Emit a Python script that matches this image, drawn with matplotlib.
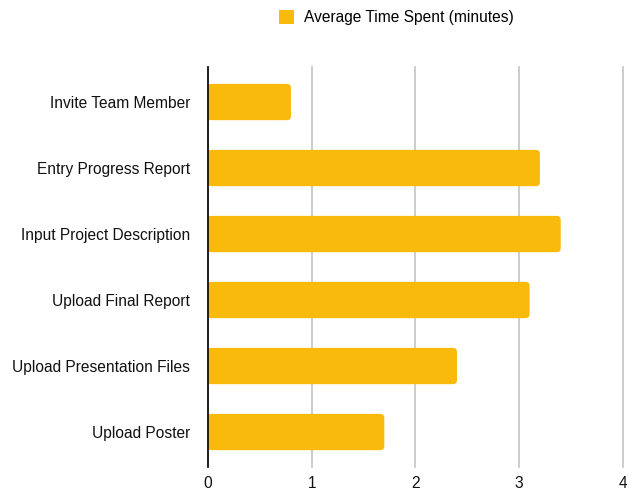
import matplotlib
matplotlib.use("Agg")
import matplotlib.pyplot as plt
from matplotlib.patches import FancyBboxPatch, Rectangle

categories = ["Invite Team Member", "Entry Progress Report", "Input Project Description",
              "Upload Final Report", "Upload Presentation Files", "Upload Poster"]
values = [0.8, 3.2, 3.4, 3.1, 2.4, 1.7]
series_name = "Average Time Spent (minutes)"
x_ticks = [0, 1, 2, 3, 4]

color = "#F9BA0B"
plt.rcParams['font.family'] = ['Liberation Sans', 'DejaVu Sans']

fig = plt.figure(figsize=(6.34, 4.93), dpi=100)
ax = fig.add_axes([0.328, 0.0527, 0.6546, 0.8113])

bars = ax.barh(range(len(categories)), values, height=0.55, color=color, label=series_name, zorder=2)
ax.set_ylim(len(categories) - 0.47, -0.53)
ax.set_xlim(0, 4)

# rounded right corners
r = 0.04
for b in bars:
    x0, y0, w, h = b.get_x(), b.get_y(), b.get_width(), b.get_height()
    b.set_visible(False)
    fb = FancyBboxPatch((x0, y0), w, h, boxstyle=f"round,pad=0,rounding_size={r}",
                        mutation_aspect=1.55, facecolor=color, edgecolor='none', zorder=2)
    ax.add_patch(fb)
    ax.add_patch(Rectangle((x0, y0), min(w, 0.1), h, facecolor=color, edgecolor='none', zorder=2))

ax.set_yticks(range(len(categories)))
ax.set_yticklabels(categories, fontsize=11.2, color="#111111")
ax.set_xticks(x_ticks)
ax.set_xticklabels([str(t) for t in x_ticks], fontsize=11.2, color="#111111")
ax.tick_params(axis='y', length=0, pad=13)
ax.tick_params(axis='x', length=0, pad=6.5)
ax.grid(axis='x', color="#c4c4c4", linewidth=1.2, zorder=0)
ax.set_axisbelow(True)
for s in ['top', 'right', 'bottom']:
    ax.spines[s].set_visible(False)
ax.spines['left'].set_color('black')
ax.spines['left'].set_linewidth(1.2)
ax.spines['left'].set_zorder(3)
for gl in ax.get_xgridlines():
    gl.set_clip_on(False)

handle = Rectangle((0, 0), 1, 1, facecolor=color, edgecolor='none')
fig.legend([handle], [series_name], loc='center', bbox_to_anchor=(0.625, 0.965),
           frameon=False, fontsize=11.2, handlelength=1.0, handleheight=1.0, handletextpad=0.6)

fig.savefig("out.png", dpi=100)
